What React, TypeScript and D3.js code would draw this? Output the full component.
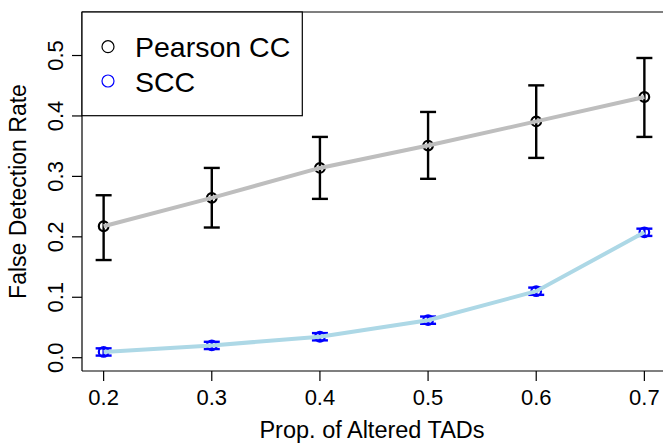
import React from "react";
import * as d3 from "d3";

const props = [0.2, 0.3, 0.4, 0.5, 0.6, 0.7];
const pearson = [0.2175, 0.2645, 0.314, 0.351, 0.391, 0.4314];
const pearsonLo = [0.1616, 0.2154, 0.2628, 0.296, 0.3306, 0.3653];
const pearsonHi = [0.2688, 0.314, 0.3653, 0.4066, 0.4506, 0.4959];
const scc = [0.0095, 0.0203, 0.0347, 0.0621, 0.11, 0.2075];
const sccLo = [0.0035, 0.0143, 0.0287, 0.0561, 0.104, 0.2015];
const sccHi = [0.0155, 0.0263, 0.0407, 0.0681, 0.116, 0.2135];
const xTicks = [0.2, 0.3, 0.4, 0.5, 0.6, 0.7];
const yTicks = [0, 0.1, 0.2, 0.3, 0.4, 0.5];
const legendLabels = ["Pearson CC", "SCC"];

const W = 663;
const H = 443;
const L = 82, R = 666, T = 12, B = 371;
const FONT = "'Liberation Sans', Arial, Helvetica, sans-serif";

export default function App() {
  const x = d3.scaleLinear().domain([0.18, 0.72]).range([L, R]);
  const y = d3.scaleLinear().domain([-0.022, 0.572]).range([B, T]);
  const line = d3.line<number>().x((_, i) => x(props[i])).y((d) => y(d));
  const cap = 8;

  const series = [
    { vals: pearson, lo: pearsonLo, hi: pearsonHi, pt: "#000000", ln: "#BEBEBE" },
    { vals: scc, lo: sccLo, hi: sccHi, pt: "#0000FF", ln: "#ADD8E6" },
  ];

  return (
    <svg width={W} height={H} style={{ position: "absolute", left: 0, top: 0, background: "#fff" }} fontFamily={FONT}>
      <rect x={0} y={0} width={W} height={H} fill="#fff" />
      {series.map((s, si) => (
        <g key={si}>
          {s.vals.map((v, i) => (
            <circle key={"c" + i} cx={x(props[i])} cy={y(v)} r={4.8} fill="none" stroke={s.pt} strokeWidth={2.2} />
          ))}
          {s.vals.map((v, i) => {
            const cx = x(props[i]);
            return (
              <g key={"e" + i} stroke={s.pt} strokeWidth={2.4}>
                <line x1={cx} x2={cx} y1={y(s.lo[i])} y2={y(s.hi[i])} />
                <line x1={cx - cap} x2={cx + cap} y1={y(s.lo[i])} y2={y(s.lo[i])} />
                <line x1={cx - cap} x2={cx + cap} y1={y(s.hi[i])} y2={y(s.hi[i])} />
              </g>
            );
          })}
          <path d={line(s.vals) || ""} fill="none" stroke={s.ln} strokeWidth={4} />
        </g>
      ))}
      <g stroke="#000" strokeWidth={1.2} fill="none">
        <line x1={L} x2={L} y1={T} y2={B} />
        <line x1={L} x2={W} y1={B} y2={B} />
        <line x1={L} x2={W} y1={T} y2={T} />
      </g>
      {yTicks.map((t) => (
        <g key={"y" + t}>
          <line x1={L - 10} x2={L} y1={y(t)} y2={y(t)} stroke="#000" strokeWidth={1.2} />
          <text transform={`translate(${L - 19},${y(t)}) rotate(-90)`} textAnchor="middle" fontSize={22} fill="#000">
            {d3.format(".1f")(t)}
          </text>
        </g>
      ))}
      {xTicks.map((t) => (
        <g key={"x" + t}>
          <line x1={x(t)} x2={x(t)} y1={B} y2={B + 10} stroke="#000" strokeWidth={1.2} />
          <text x={x(t)} y={B + 34} textAnchor="middle" fontSize={22} fill="#000">
            {d3.format(".1f")(t)}
          </text>
        </g>
      ))}
      <text x={(L + R) / 2 - 2} y={438} textAnchor="middle" fontSize={23.5} fill="#000">
        Prop. of Altered TADs
      </text>
      <text transform={`translate(26,${(T + B) / 2}) rotate(-90)`} textAnchor="middle" fontSize={23} fill="#000">
        False Detection Rate
      </text>
      <rect x={L} y={T} width={302.3 - L} height={115.7 - T} fill="#fff" stroke="#000" strokeWidth={1.2} />
      {legendLabels.map((lab, i) => (
        <g key={lab}>
          <circle cx={108} cy={46.7 + i * 34.3} r={6} fill="none" stroke={i === 0 ? "#000" : "#0000FF"} strokeWidth={1.2} />
          <text x={135} y={56.7 + i * 35} fontSize={28.5} fill="#000">
            {lab}
          </text>
        </g>
      ))}
    </svg>
  );
}
